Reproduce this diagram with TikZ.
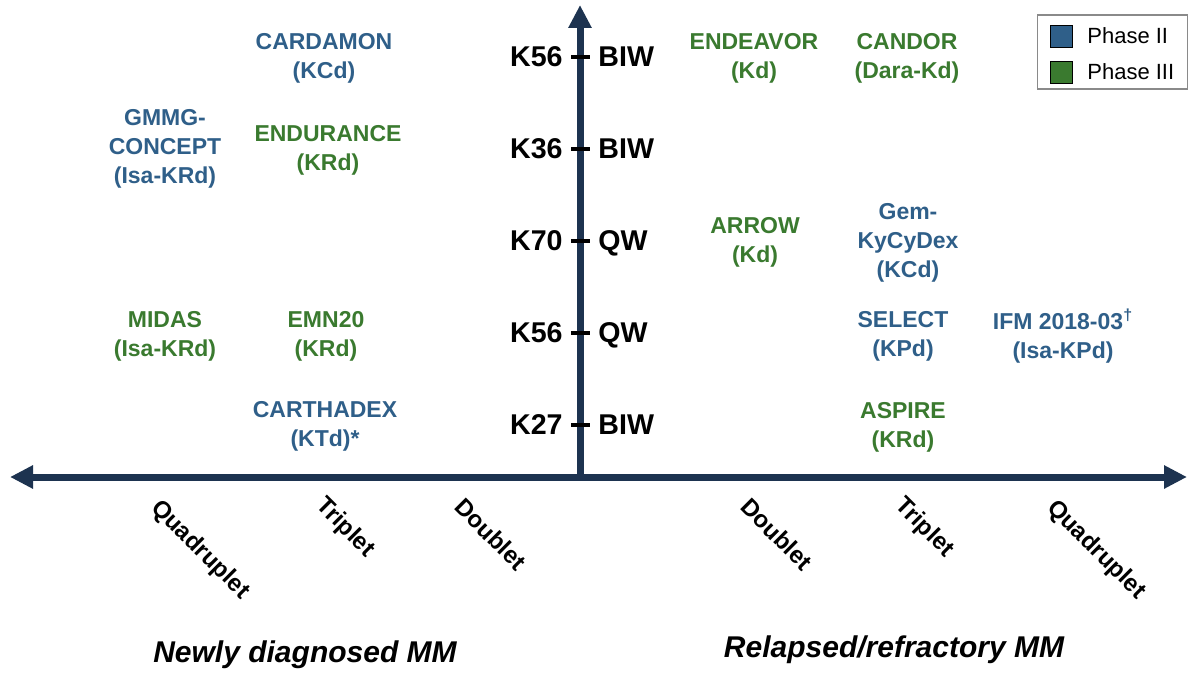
\documentclass[tikz,border=0pt]{standalone}
\usepackage{fontspec}
\setmainfont{Liberation Sans}
\usetikzlibrary{arrows.meta}
\definecolor{axisnavy}{HTML}{1D3350}
\definecolor{phtwo}{HTML}{2F5F89}
\definecolor{phthree}{HTML}{3A7A2F}
\definecolor{legborder}{HTML}{8A8A8A}
\begin{document}
\begin{tikzpicture}[x=0.5pt,y=-0.5pt,
  study/.style={font=\fontsize{11.5}{14.5}\selectfont\bfseries, align=center, inner sep=0pt},
  blue2/.style={study, text=phtwo},
  green3/.style={study, text=phthree},
  klab/.style={font=\fontsize{14.3}{16}\selectfont\bfseries, inner sep=0pt, text=black},
  combo/.style={font=\fontsize{12}{14}\selectfont\bfseries, rotate=-45, inner sep=0pt, text=black},
  mmlab/.style={font=\fontsize{15}{18}\selectfont\bfseries\itshape, inner sep=0pt, text=black},
  axisline/.style={line width=3.5pt, draw=axisnavy, -{Triangle[length=11.5pt,width=11pt]}},
  tickmark/.style={line width=1.6pt, draw=black},
  legsq/.style={draw=black, line width=0.4pt, minimum size=11pt, inner sep=0pt},
  legtext/.style={font=\fontsize{11}{13}\selectfont, inner sep=0pt, anchor=west}
]
\useasboundingbox (0,0) rectangle (1200,674);
\fill[white] (0,0) rectangle (1200,674);

% axes
\coordinate (origin) at (580,477);
\coordinate (leftend) at (10,477);
\coordinate (rightend) at (1187,477);
\coordinate (topend) at (580,5);
\draw[axisline] (origin) -- (leftend);
\draw[axisline] (origin) -- (rightend);
\draw[axisline] (origin) -- (topend);

% ticks and dose labels
\foreach \yy/\kk/\ss [count=\i] in {57/K56/BIW,149/K36/BIW,241/K70/QW,333/K56/QW,425/K27/BIW}{
  \coordinate (tl\i) at (571,\yy);
  \coordinate (tr\i) at (590,\yy);
  \draw[tickmark] (tl\i) -- (tr\i);
  \node[klab, anchor=base east] (kl\i) at (563,\yy+9.5) {\kk};
  \node[klab, anchor=base west] (sl\i) at (598,\yy+9.5) {\ss};
}

% newly diagnosed studies
\node[blue2]  (cardamon)  at (324,58)  {CARDAMON\\(KCd)};
\node[blue2]  (gmmg)      at (165,149) {GMMG-\\CONCEPT\\(Isa-KRd)};
\node[green3] (endurance) at (328,150) {ENDURANCE\\(KRd)};
\node[green3] (midas)     at (165,336) {MIDAS\\(Isa-KRd)};
\node[green3] (emn20)     at (326,336) {EMN20\\(KRd)};
\node[blue2]  (carthadex) at (325,426) {CARTHADEX\\(KTd)*};

% relapsed/refractory studies
\node[green3] (endeavor)  at (754,58)  {ENDEAVOR\\(Kd)};
\node[green3] (candor)    at (907,58)  {CANDOR\\(Dara-Kd)};
\node[green3] (arrow)     at (755,242) {ARROW\\(Kd)};
\node[blue2]  (gem)       at (908,243) {Gem-\\KyCyDex\\(KCd)};
\node[blue2]  (select)    at (903,336) {SELECT\\(KPd)};
\node[blue2]  (ifm)       at (1063,336) {IFM 2018-03\textsuperscript{\fontsize{8}{8}\selectfont †}\\(Isa-KPd)};
\node[green3] (aspire)    at (903,427) {ASPIRE\\(KRd)};

% combination labels
\node[combo] (quadL) at (200,550) {Quadruplet};
\node[combo] (tripL) at (345,528) {Triplet};
\node[combo] (doubL) at (491,534) {Doublet};
\node[combo] (doubR) at (777,534) {Doublet};
\node[combo] (tripR) at (924,528) {Triplet};
\node[combo] (quadR) at (1096,550) {Quadruplet};

% MM labels
\node[mmlab] (ndmm) at (305,655) {Newly diagnosed MM};
\node[mmlab] (rrmm) at (894,650) {Relapsed/refractory MM};

% legend
\node[draw=legborder, line width=0.6pt, minimum width=75pt, minimum height=37pt, inner sep=0pt, fill=white] (legend) at (1112.5,52) {};
\node[legsq, fill=phtwo]   (sq2) at (1061,36) {};
\node[legsq, fill=phthree] (sq3) at (1061,72) {};
\node[legtext] (lt2) at (1087,36) {Phase II};
\node[legtext] (lt3) at (1087,72) {Phase III};
\end{tikzpicture}
\end{document}
